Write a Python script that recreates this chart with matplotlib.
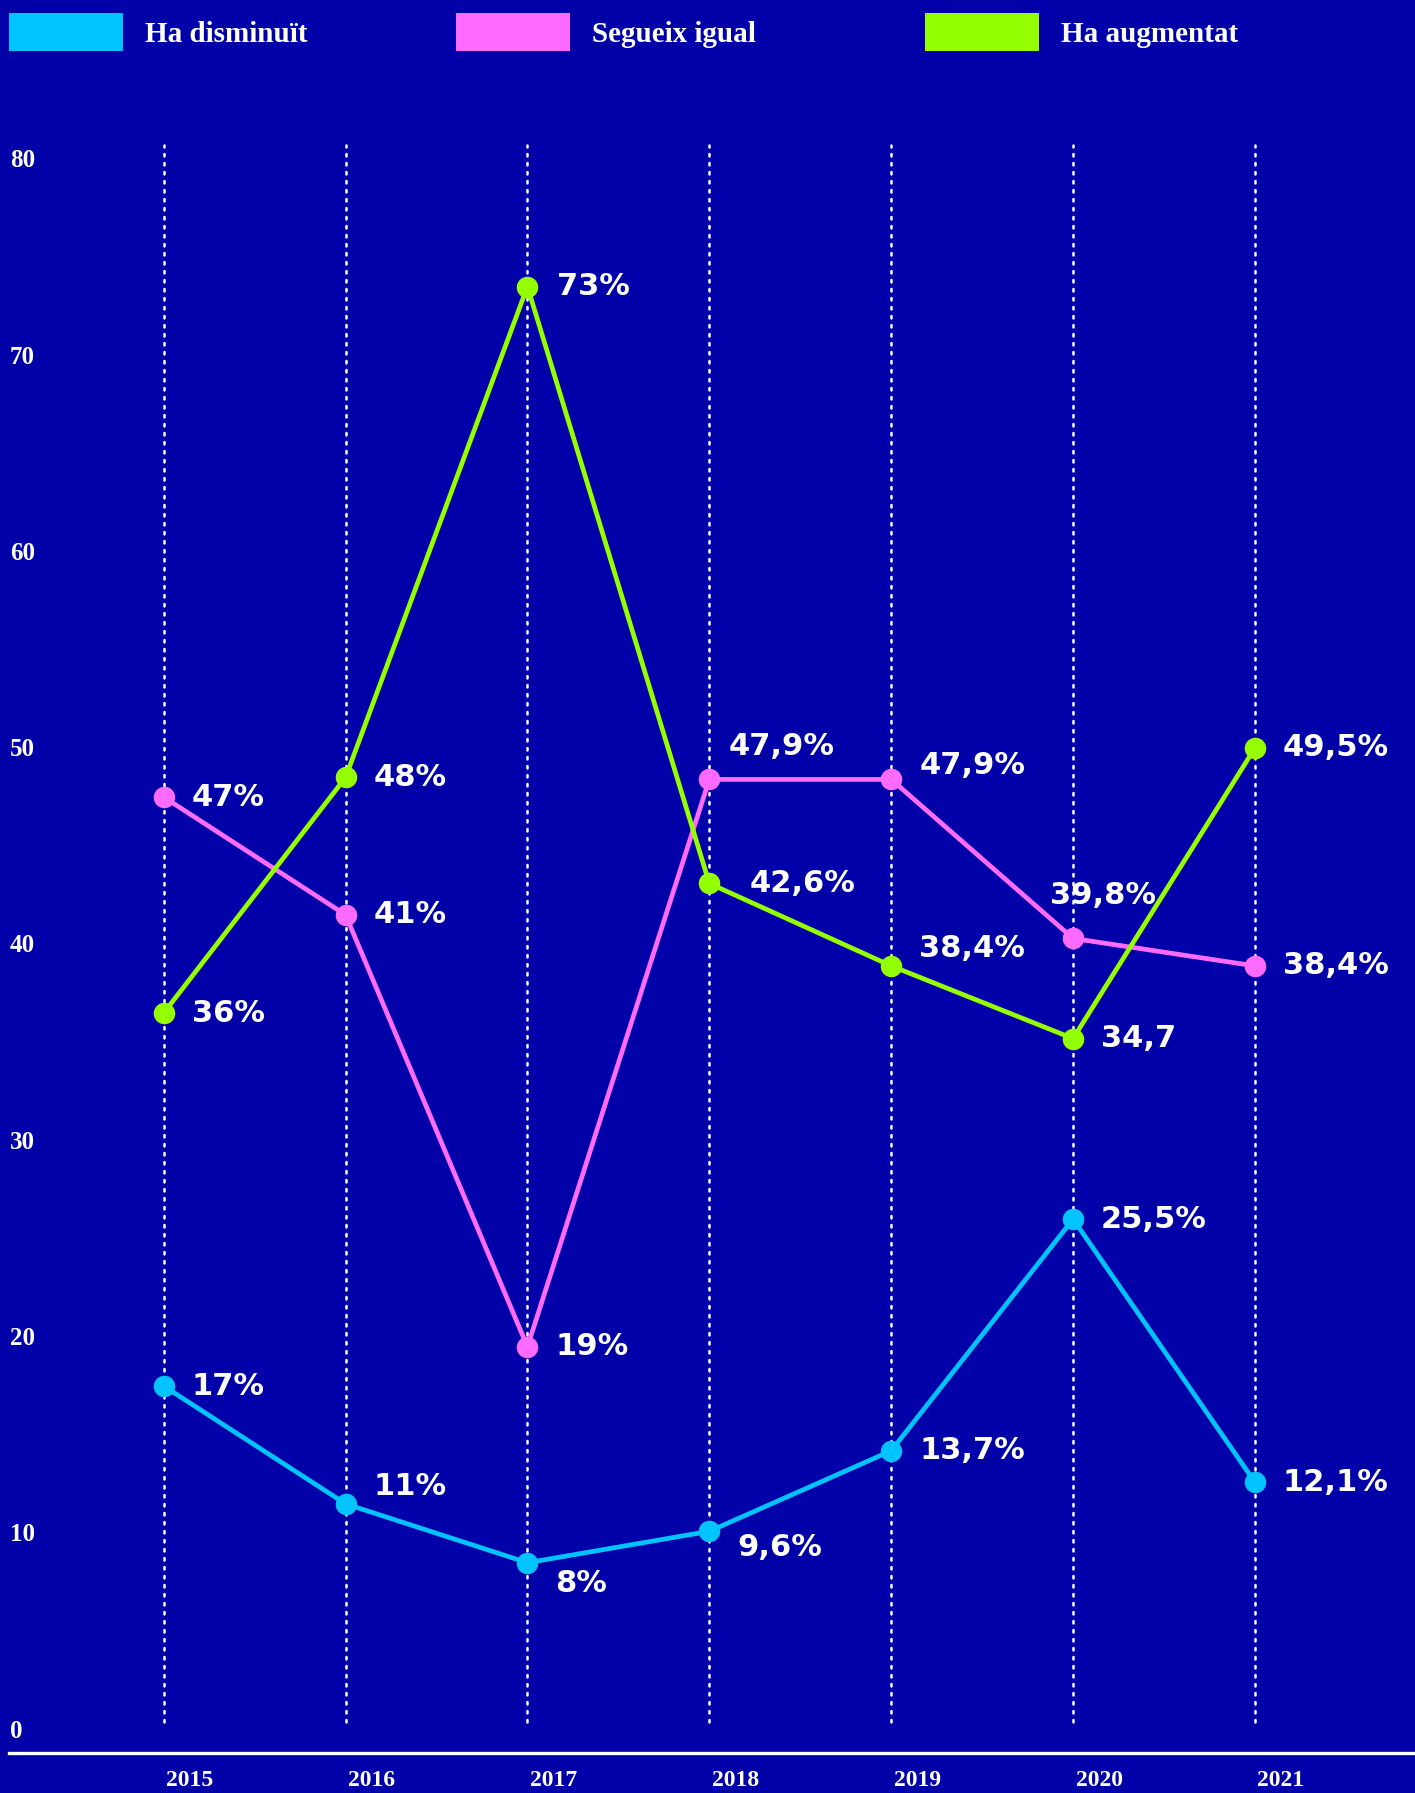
import numpy as np
import matplotlib
matplotlib.use("Agg")
import matplotlib.pyplot as plt
from matplotlib.patches import Rectangle
from matplotlib.lines import Line2D

# data
years = ["2015", "2016", "2017", "2018", "2019", "2020", "2021"]
disminuit = [17, 11, 8, 9.6, 13.7, 25.5, 12.1]
igual = [47, 41, 19, 47.9, 47.9, 39.8, 38.4]
augmentat = [36, 48, 73, 42.6, 38.4, 34.7, 49.5]

labels_dism = ["17%", "11%", "8%", "9,6%", "13,7%", "25,5%", "12,1%"]
labels_igual = ["47%", "41%", "19%", "47,9%", "47,9%", "39,8%", "38,4%"]
labels_aug = ["36%", "48%", "73%", "42,6%", "38,4%", "34,7", "49,5%"]

series_names = ["Ha disminuït", "Segueix igual", "Ha augmentat"]
yticks = [0, 10, 20, 30, 40, 50, 60, 70, 80]

BG = "#0000a8"
C_BLUE = "#00c4ff"
C_PINK = "#ff6bff"
C_GREEN = "#94ff00"

W, H = 1415, 1793
fig = plt.figure(figsize=(W / 100, H / 100), dpi=100, facecolor=BG)
ax = fig.add_axes([0, 0, 1, 1])
ax.set_facecolor(BG)
ax.set_xlim(-0.9, 6.88)
ax.set_ylim(-3.73, 87.6)
ax.axis("off")

x = np.arange(len(years))

# dotted guides
for xi in x:
    ax.plot([xi, xi], [-0.1, 80.2], color="white", lw=1.8,
            linestyle=(0, (1, 2.6)), dash_capstyle="round", zorder=1)

# label offsets in pixels (dx, dy), up is positive
off_dism = [(28, 0), (28, 17), (28, -21), (28, -16), (28, 0), (28, 0), (28, 0)]
off_igual = [(28, 0), (28, 0), (28, 0), (19, 33), (28, 14), (-23, 43), (28, 0)]
off_aug = [(28, 0), (28, 0), (30, 0), (40, 0), (28, 17), (28, 0), (28, 0)]

for vals, labs, offs, col in [(disminuit, labels_dism, off_dism, C_BLUE),
                              (igual, labels_igual, off_igual, C_PINK),
                              (augmentat, labels_aug, off_aug, C_GREEN)]:
    ax.plot(x, vals, color=col, lw=3.4, marker="o", markersize=15.5,
            markeredgewidth=0, zorder=3)
    for xi, v, lab, (dx, dy) in zip(x, vals, labs, offs):
        ax.annotate(lab, (xi, v), xytext=(dx, dy), textcoords="offset pixels",
                    ha="left", va="center", color="white", fontsize=22,
                    fontweight="bold", family="DejaVu Sans", zorder=4)

# y tick labels
for t in yticks:
    ax.annotate(str(t), (0, t), xycoords=("figure fraction", "data"),
                xytext=(10, 0), textcoords="offset pixels",
                ha="left", va="top", color="white", fontsize=18,
                fontweight="bold", family="Liberation Serif")

# x tick labels
for xi, yr in zip(x, years):
    ax.annotate(yr, (xi, 0), xycoords=("data", "figure fraction"),
                xytext=(26, 12), textcoords="offset pixels",
                ha="center", va="center", color="white", fontsize=17,
                fontweight="bold", family="Liberation Serif")

# baseline
fig.add_artist(Line2D([9 / W, 1], [1 - 1752.5 / H] * 2, color="white", lw=2.4))

# legend
leg_x = [9, 456, 925]
leg_cols = [C_BLUE, C_PINK, C_GREEN]
for lx, col, name in zip(leg_x, leg_cols, series_names):
    fig.add_artist(Rectangle((lx / W, 1 - 51 / H), 114 / W, 38 / H,
                             transform=fig.transFigure, color=col, lw=0))
    fig.text((lx + 136) / W, 1 - 35 / H, name, ha="left", va="center",
             color="white", fontsize=21, fontweight="bold",
             family="Liberation Serif")

fig.savefig("out.png", dpi=100, facecolor=BG)
